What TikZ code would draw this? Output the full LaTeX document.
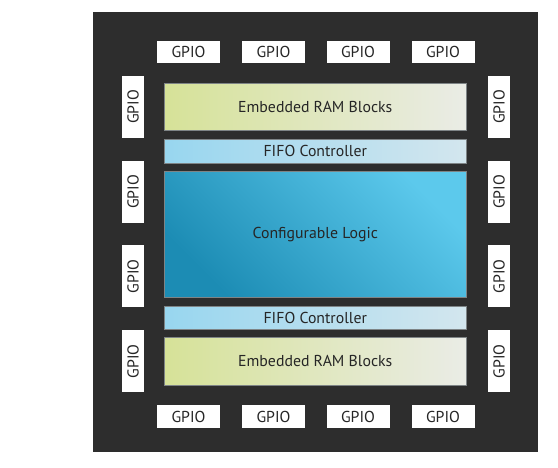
\documentclass[tikz,border=0pt]{standalone}
\usepackage{fontspec}
\setmainfont{PT Sans}
\definecolor{chip}{HTML}{2D2D2D}
\definecolor{txt}{HTML}{262626}
\definecolor{ramL}{HTML}{D6E298}
\definecolor{ramR}{HTML}{EAECE6}
\definecolor{fifoL}{HTML}{98D6EF}
\definecolor{fifoR}{HTML}{D3E6EE}
\definecolor{logDark}{HTML}{1C8CB4}
\definecolor{logLight}{HTML}{5CC9EC}
\definecolor{edge}{HTML}{7E8486}
\tikzset{
  lbl/.style={font=\fontsize{15.8}{18}\selectfont, text=txt},
  gpioh/.style={lbl, fill=white, minimum width=63pt, minimum height=22.6pt, inner sep=0pt},
  gpiov/.style={lbl, fill=white, minimum width=62pt, minimum height=22.3pt, inner sep=0pt, rotate=90},
  blk/.style={lbl, draw=edge, line width=0.8pt, minimum width=301.5pt, inner sep=0pt},
  ramblk/.style={blk, left color=ramL, right color=ramR, minimum height=47.4pt},
  fifoblk/.style={blk, left color=fifoL, right color=fifoR, minimum height=23.5pt},
  logicblk/.style={blk, top color=logLight, bottom color=logDark, shading angle=-45, minimum height=126.3pt}
}
\begin{document}
\begin{tikzpicture}[x=1pt,y=-1pt]
\useasboundingbox (0,0) rectangle (558,468);
\fill[chip] (93,12) rectangle (538,452);
% top GPIO
\node[gpioh] (t1) at (188.5,52) {GPIO};
\node[gpioh] (t2) at (273.5,52) {GPIO};
\node[gpioh] (t3) at (358,52) {GPIO};
\node[gpioh] (t4) at (443,52) {GPIO};
% bottom GPIO
\node[gpioh] (b1) at (188.5,416.7) {GPIO};
\node[gpioh] (b2) at (273.5,416.7) {GPIO};
\node[gpioh] (b3) at (358,416.7) {GPIO};
\node[gpioh] (b4) at (443,416.7) {GPIO};
% left GPIO
\node[gpiov] (l1) at (133,107) {GPIO};
\node[gpiov] (l2) at (133,192) {GPIO};
\node[gpiov] (l3) at (133,276.5) {GPIO};
\node[gpiov] (l4) at (133,361.5) {GPIO};
% right GPIO
\node[gpiov] (r1) at (499,107) {GPIO};
\node[gpiov] (r2) at (499,192) {GPIO};
\node[gpiov] (r3) at (499,276.5) {GPIO};
\node[gpiov] (r4) at (499,361.5) {GPIO};
% core blocks
\node[ramblk] (ram1) at (315.25,107) {Embedded RAM Blocks};
\node[fifoblk] (fifo1) at (315.25,151.3) {FIFO Controller};
\node[logicblk] (logic) at (315.25,234.2) {Configurable Logic};
\node[fifoblk] (fifo2) at (315.25,318) {FIFO Controller};
\node[ramblk] (ram2) at (315.25,361.4) {Embedded RAM Blocks};
\end{tikzpicture}
\end{document}
